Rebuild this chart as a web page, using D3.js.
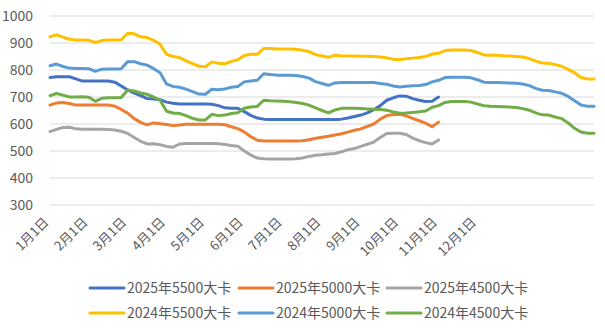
<!DOCTYPE html>
<html>
<head>
<meta charset="utf-8">
<script src="https://cdn.jsdelivr.net/npm/d3@7"></script>
<style>
  html, body { margin: 0; padding: 0; background: #fff; }
  svg { display: block; font-family: "Noto Sans CJK SC", "Noto Sans", sans-serif; }
</style>
</head>
<body>
<svg id="chart" width="605" height="329"></svg>
<script>
// Month labels on the category axis, one every `labelStep` points
const monthLabels = ["1月1日", "2月1日", "3月1日", "4月1日", "5月1日", "6月1日",
                     "7月1日", "8月1日", "9月1日", "10月1日", "11月1日", "12月1日"];
const labelStep = 6;
const pointCount = 85;

const yTicks = [300, 400, 500, 600, 700, 800, 900, 1000];

const seriesNames = ["2025年5500大卡", "2025年5000大卡", "2025年4500大卡",
                     "2024年5500大卡", "2024年5000大卡", "2024年4500大卡"];
const seriesColors = ["#4472C4", "#ED7D31", "#A5A5A5", "#FFC000", "#5B9BD5", "#70AD47"];

// Price series (元/吨)
const y2025_5500 = [772, 775, 775, 775, 767, 759, 759, 759, 759, 759, 755, 741, 726, 714, 705, 694, 693, 690, 681, 677,
                    674, 674, 674, 674, 674, 673, 668, 660, 658, 658, 646, 632, 622, 618, 617, 617, 617, 617, 617, 617,
                    617, 617, 617, 617, 617, 618, 622, 628, 633, 641, 653, 668, 688, 697, 704, 703, 694, 688, 683, 684, 700];
const y2025_5000 = [670, 678, 680, 676, 670, 670, 670, 670, 670, 670, 666, 654, 640, 620, 606, 597, 604, 601, 598, 594,
                    596, 599, 599, 599, 599, 599, 599, 597, 590, 583, 571, 553, 540, 537, 537, 537, 537, 537, 537, 538,
                    542, 547, 551, 555, 559, 564, 570, 577, 582, 591, 600, 618, 631, 635, 636, 630, 621, 612, 603, 590, 607];
const y2025_4500 = [572, 580, 587, 588, 582, 581, 581, 581, 581, 580, 578, 573, 565, 550, 536, 526, 527, 523, 517, 514,
                    526, 528, 528, 528, 528, 528, 527, 524, 520, 518, 500, 485, 474, 471, 470, 470, 470, 470, 471, 474,
                    480, 484, 486, 489, 491, 497, 505, 509, 517, 525, 533, 550, 565, 566, 566, 561, 548, 538, 531, 526, 541];
const y2024_5500 = [923, 930, 922, 914, 911, 911, 910, 902, 909, 911, 911, 912, 936, 934, 923, 920, 910, 895, 858, 850,
                    846, 834, 824, 814, 812, 830, 825, 823, 832, 838, 854, 858, 858, 880, 880, 878, 878, 878, 877, 873,
                    868, 857, 852, 847, 855, 852, 852, 852, 851, 851, 850, 848, 845, 840, 838, 842, 844, 846, 850, 859,
                    862, 872, 874, 874, 874, 872, 865, 856, 855, 855, 853, 852, 850, 848, 842, 833, 826, 825, 820, 814,
                    802, 790, 772, 767, 767];
const y2024_5000 = [816, 822, 813, 807, 806, 806, 805, 795, 803, 804, 804, 805, 831, 831, 823, 818, 805, 790, 748, 739,
                    736, 729, 720, 711, 710, 729, 727, 730, 736, 739, 756, 759, 762, 786, 783, 781, 781, 781, 780, 776,
                    770, 757, 750, 743, 752, 754, 754, 754, 754, 754, 754, 750, 747, 741, 737, 740, 742, 743, 746, 756,
                    762, 772, 773, 773, 773, 771, 764, 755, 754, 754, 753, 752, 751, 748, 742, 732, 725, 724, 719, 714,
                    702, 686, 670, 666, 666];
const y2024_4500 = [705, 713, 707, 700, 700, 701, 699, 684, 695, 697, 697, 698, 726, 722, 715, 710, 700, 688, 647, 641,
                    639, 631, 621, 615, 615, 636, 631, 633, 639, 642, 658, 663, 665, 688, 686, 685, 684, 682, 680, 676,
                    670, 660, 650, 641, 652, 658, 658, 658, 657, 656, 655, 654, 651, 645, 640, 641, 643, 645, 648, 662,
                    668, 680, 683, 683, 683, 681, 674, 668, 666, 665, 664, 663, 661, 657, 651, 641, 634, 633, 626, 620,
                    604, 584, 570, 566, 566];

const seriesValues = [y2025_5500, y2025_5000, y2025_4500, y2024_5500, y2024_5000, y2024_4500];

const svg = d3.select("#chart");
const plot = { left: 50, right: 594, top: 16, bottom: 205 };

const x = d3.scaleLinear().domain([0, pointCount - 1]).range([plot.left, plot.right]);
const y = d3.scaleLinear().domain([300, 1000]).range([plot.bottom, plot.top]);

const textColor = "#595959";

// Horizontal gridlines
svg.append("g")
  .selectAll("line")
  .data(yTicks)
  .join("line")
  .attr("x1", plot.left).attr("x2", plot.right)
  .attr("y1", d => y(d)).attr("y2", d => y(d))
  .attr("stroke", "#d9d9d9").attr("stroke-width", 1);

// Y axis labels
const yAxis = svg.append("g")
  .attr("transform", `translate(${plot.left - 17},0)`)
  .call(d3.axisLeft(y).tickValues(yTicks).tickSize(0).tickPadding(0).tickFormat(d3.format("d")));
yAxis.select(".domain").remove();
yAxis.selectAll("text")
  .attr("fill", textColor)
  .style("font-size", "14px")
  .style("font-family", "'Noto Sans CJK SC', 'Noto Sans', sans-serif");

// X axis labels, rotated
const labelIdx = monthLabels.map((_, i) => i * labelStep);
const xAxis = svg.append("g")
  .attr("transform", `translate(0,${plot.bottom})`)
  .call(d3.axisBottom(x).tickValues(labelIdx).tickSize(0)
        .tickFormat((d, i) => monthLabels[i]));
xAxis.select(".domain").remove();
xAxis.selectAll("text")
  .attr("fill", textColor)
  .style("font-size", "13px")
  .style("font-family", "'Noto Sans CJK SC', sans-serif")
  .attr("text-anchor", "end")
  .attr("dy", null)
  .attr("y", 0)
  .attr("transform", "translate(-1,18) rotate(-45)");

// Lines
const line = d3.line()
  .x((d, i) => x(i))
  .y(d => y(d));

svg.append("g")
  .selectAll("path")
  .data(seriesValues)
  .join("path")
  .attr("d", d => line(d))
  .attr("fill", "none")
  .attr("stroke", (d, i) => seriesColors[i])
  .attr("stroke-width", 3)
  .attr("stroke-linejoin", "round")
  .attr("stroke-linecap", "round");

// Legend: two rows of three
const legendCols = [90, 239, 387];
const legendRows = [288, 313];
const legend = svg.append("g");
seriesNames.forEach((name, i) => {
  const cx = legendCols[i % 3];
  const cy = legendRows[Math.floor(i / 3)];
  const g = legend.append("g").attr("transform", `translate(${cx},${cy})`);
  g.append("line")
    .attr("x1", 0).attr("x2", 34).attr("y1", 0).attr("y2", 0)
    .attr("stroke", seriesColors[i]).attr("stroke-width", 3)
    .attr("stroke-linecap", "round");
  g.append("text")
    .attr("x", 37).attr("y", 0).attr("dy", "0.35em")
    .attr("fill", textColor)
    .style("font-size", "14px")
    .text(name);
});
</script>
</body>
</html>
